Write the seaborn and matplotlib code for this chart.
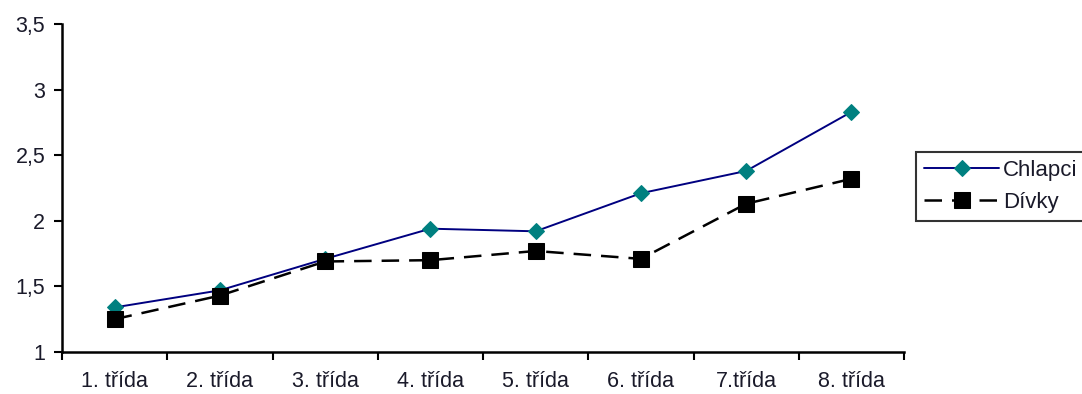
import matplotlib
matplotlib.use("Agg")
import matplotlib.pyplot as plt
import seaborn as sns
import pandas as pd
import numpy as np

categories = ["1. třída", "2. třída", "3. třída", "4. třída",
              "5. třída", "6. třída", "7.třída", "8. třída"]
chlapci = [1.34, 1.47, 1.71, 1.94, 1.92, 2.21, 2.38, 2.83]
divky = [1.25, 1.43, 1.69, 1.70, 1.77, 1.71, 2.13, 2.32]
y_ticks = [1, 1.5, 2, 2.5, 3, 3.5]
y_tick_labels = ["1", "1,5", "2", "2,5", "3", "3,5"]

sns.set_theme(style="ticks")
plt.rcParams["font.family"] = ["Liberation Sans", "DejaVu Sans"]

df = pd.DataFrame({
    "pos": np.arange(len(categories)),
    "Chlapci": chlapci,
    "Dívky": divky,
})

fig = plt.figure(figsize=(10.82, 3.94), dpi=100)
ax = fig.add_axes([0.0573, 0.1066, 0.7782, 0.8324])

sns.lineplot(data=df, x="pos", y="Chlapci", ax=ax, color="#000080",
             linewidth=1.4, marker="D", markersize=8.5,
             markerfacecolor="#008080", markeredgecolor="#008080",
             label="Chlapci")
sns.lineplot(data=df, x="pos", y="Dívky", ax=ax, color="black",
             linewidth=1.8, marker="s", markersize=12,
             markerfacecolor="black", markeredgecolor="black",
             label="Dívky")
ax.lines[1].set_dashes([7, 4])

ax.set_xlim(-0.5, len(categories) - 0.5)
ax.set_ylim(1, 3.5)
ax.set_yticks(y_ticks)
ax.set_yticklabels(y_tick_labels)
ax.set_xticks(np.arange(len(categories)))
ax.set_xticklabels(categories)
ax.set_xticks(np.arange(len(categories) + 1) - 0.5, minor=True)
ax.tick_params(axis="x", which="major", length=0, pad=14, labelsize=15.5,
               labelcolor="#1a1a2a")
ax.tick_params(axis="x", which="minor", length=6, width=1.5, direction="out",
               color="black")
ax.tick_params(axis="y", length=6, width=1.5, direction="out", color="black",
               labelsize=15.5, labelcolor="#1a1a2a", pad=6)
ax.set_xlabel("")
ax.set_ylabel("")
for side in ("top", "right"):
    ax.spines[side].set_visible(False)
for side in ("left", "bottom"):
    ax.spines[side].set_linewidth(1.8)
    ax.spines[side].set_color("black")

ax.legend_.remove()
handles, labels = ax.get_legend_handles_labels()
leg = fig.legend(handles, labels, loc="upper left",
                 bbox_to_anchor=(916 / 1082, 1 - 152 / 394),
                 frameon=True, fancybox=False, fontsize=16,
                 handlelength=3.4, borderpad=0.35, labelspacing=0.5,
                 handletextpad=0.15, borderaxespad=0)
leg.get_frame().set_edgecolor("black")
leg.get_frame().set_linewidth(1.5)
for t in leg.get_texts():
    t.set_color("#1a1a2a")

fig.savefig("out.png", dpi=100, facecolor="white")
